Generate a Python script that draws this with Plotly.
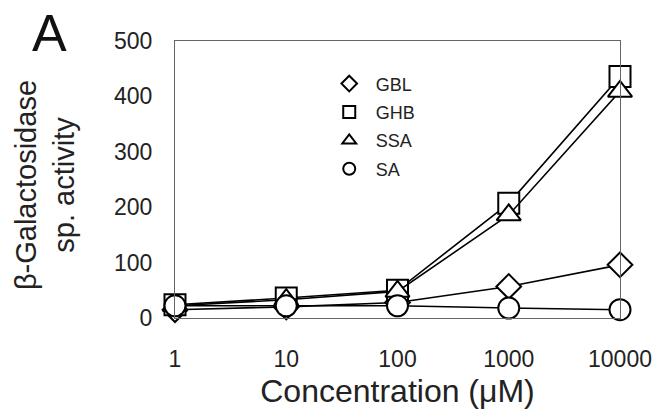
import plotly.graph_objects as go

conc = [1, 10, 100, 1000, 10000]
gbl = [15, 20, 28, 57, 96]
ghb = [24, 36, 50, 207, 436]
ssa = [22, 33, 48, 186, 409]
sa = [22, 22, 22, 18, 15]

series = [
    ("GBL", gbl, "diamond"),
    ("GHB", ghb, "square"),
    ("SSA", ssa, "triangle-up"),
    ("SA", sa, "circle"),
]
sizes = {"GBL": 19, "GHB": 21, "SSA": 21, "SA": 21}

fig = go.Figure()
for name, vals, sym in series:
    fig.add_trace(go.Scatter(
        x=conc, y=vals, mode="lines+markers", name=name, showlegend=False,
        line=dict(color="black", width=1.6),
        marker=dict(symbol=sym, size=sizes[name], color="white",
                    line=dict(color="black", width=2)),
        cliponaxis=False,
    ))
for name, vals, sym in series:
    fig.add_trace(go.Scatter(
        x=[None], y=[None], mode="markers", name=name, showlegend=True,
        legendgroup=name,
        marker=dict(symbol=sym, size=12, color="white",
                    line=dict(color="black", width=2)),
    ))

# page body has an 8px margin, so the figure is sized/positioned to compensate
fig.update_layout(
    width=655, height=408,
    margin=dict(l=167, r=43, t=33, b=98),
    paper_bgcolor="white", plot_bgcolor="white",
    font=dict(family="Liberation Sans, Arial, sans-serif", color="#222"),
    showlegend=True,
    legend=dict(x=0.332, y=0.912, xanchor="left", yanchor="top",
                bgcolor="rgba(0,0,0,0)", font=dict(size=18, color="#222"),
                itemwidth=43, tracegroupgap=2, traceorder="grouped"),
    xaxis=dict(type="log", range=[0, 4], showgrid=False, zeroline=False,
               showline=True, linecolor="#666", linewidth=1, mirror=True,
               tickvals=conc, ticktext=["1", "10", "100", "1000", "10000"],
               ticks="", ticklabelstandoff=20, tickfont=dict(size=23, color="#222"),
               title=dict(text="Concentration (μM)", font=dict(size=32, color="#222"), standoff=9)),
    yaxis=dict(range=[0, 500], showgrid=False, zeroline=False,
               showline=True, linecolor="#666", linewidth=1, mirror=True,
               tickvals=[0, 100, 200, 300, 400, 500], ticks="", ticklabelstandoff=17,
               tickfont=dict(size=23, color="#222")),
    annotations=[
        dict(text="A", x=-0.281, y=1.03, xref="paper", yref="paper", showarrow=False,
             xanchor="center", yanchor="middle",
             font=dict(size=52, color="#111")),
        dict(text="β-Galactosidase<br>sp. activity", textangle=-90,
             xref="paper", yref="paper", x=-0.292, y=0.48, showarrow=False,
             xanchor="center", yanchor="middle",
             font=dict(size=29, color="#222")),
    ],
)
fig.write_html("out.html")
